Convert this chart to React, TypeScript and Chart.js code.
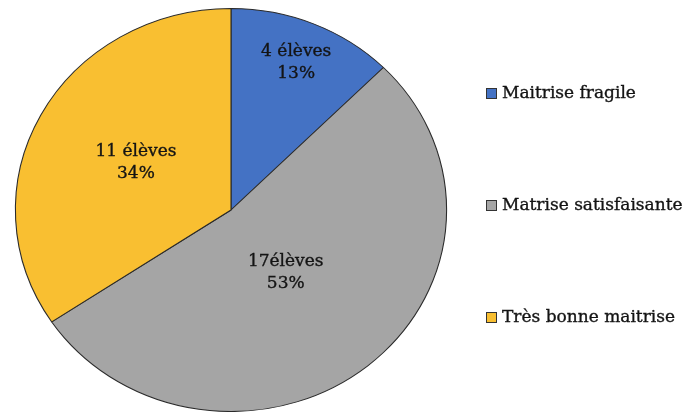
import React, { useEffect, useRef } from "react";
import { Chart, registerables } from "chart.js";

Chart.register(...registerables);

const categories = ["Maitrise fragile", "Matrise satisfaisante", "Très bonne maitrise"];
const studentCounts = [4, 17, 11];
const sliceTexts = ["4 élèves", "17élèves", "11 élèves"];
const sliceColors = ["#4472C4", "#A5A5A5", "#F9BF31"];

const FONT = "'DejaVu Serif', serif";
const X_STRETCH = 1.07;

const stretchPlugin = {
  id: "stretch",
  beforeDatasetsDraw(chart: any) {
    const meta = chart.getDatasetMeta(0);
    const cx = meta.data[0].x;
    const ctx = chart.ctx;
    ctx.save();
    ctx.translate(cx, 0);
    ctx.scale(X_STRETCH, 1);
    ctx.translate(-cx, 0);
  },
  afterDatasetsDraw(chart: any) {
    chart.ctx.restore();
  },
};

function heavyText(ctx: CanvasRenderingContext2D, t: string, x: number, y: number) {
  ctx.fillText(t, x, y);
  ctx.strokeText(t, x, y);
}

const sliceLabelPlugin = {
  id: "sliceLabels",
  afterDraw(chart: any, _args: any, opts: any) {
    const ctx = chart.ctx;
    const meta = chart.getDatasetMeta(0);
    const data = chart.data.datasets[0].data as number[];
    const total = data.reduce((a, b) => a + b, 0);
    ctx.save();
    ctx.fillStyle = "#141414";
    ctx.strokeStyle = "#141414";
    ctx.lineWidth = 0.35;
    ctx.font = `17px ${FONT}`;
    ctx.textAlign = "center";
    ctx.textBaseline = "middle";
    meta.data.forEach((arc: any, i: number) => {
      const p = arc.getProps(["x", "y", "startAngle", "endAngle", "outerRadius"], true);
      const mid = (p.startAngle + p.endAngle) / 2;
      const r = p.outerRadius * opts.radial[i];
      const cx = p.x + Math.cos(mid) * r * X_STRETCH;
      const cy = p.y + Math.sin(mid) * r;
      const pct = Math.round((data[i] / total) * 100) + "%";
      heavyText(ctx, sliceTexts[i], cx, cy - 11);
      heavyText(ctx, pct, cx, cy + 11);
    });
    ctx.restore();
  },
};

const legendPlugin = {
  id: "sideLegend",
  afterDraw(chart: any, _args: any, opts: any) {
    const ctx = chart.ctx;
    ctx.save();
    ctx.font = `17px ${FONT}`;
    ctx.textAlign = "left";
    ctx.textBaseline = "middle";
    categories.forEach((c, i) => {
      const y = opts.y0 + i * opts.step;
      ctx.fillStyle = sliceColors[i];
      ctx.fillRect(opts.x, y - 5, 11, 11);
      ctx.strokeStyle = "#333";
      ctx.lineWidth = 1;
      ctx.strokeRect(opts.x + 0.5, y - 4.5, 10, 10);
      ctx.fillStyle = "#141414";
      ctx.strokeStyle = "#141414";
      ctx.lineWidth = 0.35;
      heavyText(ctx, c, opts.x + 16, y + 1);
    });
    ctx.restore();
  },
};

export default function App() {
  const ref = useRef<HTMLCanvasElement>(null);
  useEffect(() => {
    document.body.style.margin = "0";
    const chart = new Chart(ref.current!, {
      type: "pie",
      data: {
        labels: categories,
        datasets: [
          {
            data: studentCounts,
            backgroundColor: sliceColors,
            borderColor: "#2a2a2a",
            borderWidth: 1,
          },
        ],
      },
      options: {
        animation: false,
        responsive: true,
        maintainAspectRatio: false,
        layout: { padding: { left: 28, right: 250, top: 8, bottom: 0 } },
        plugins: {
          legend: { display: false },
          tooltip: { enabled: false },
          sliceLabels: { radial: [0.79, 0.4, 0.5] },
          sideLegend: { x: 486, y0: 93, step: 112 },
        } as any,
      },
      plugins: [stretchPlugin, sliceLabelPlugin, legendPlugin],
    });
    return () => chart.destroy();
  }, []);
  return (
    <div style={{ width: 684, height: 412, position: "relative", background: "#fff" }}>
      <canvas ref={ref} />
    </div>
  );
}
